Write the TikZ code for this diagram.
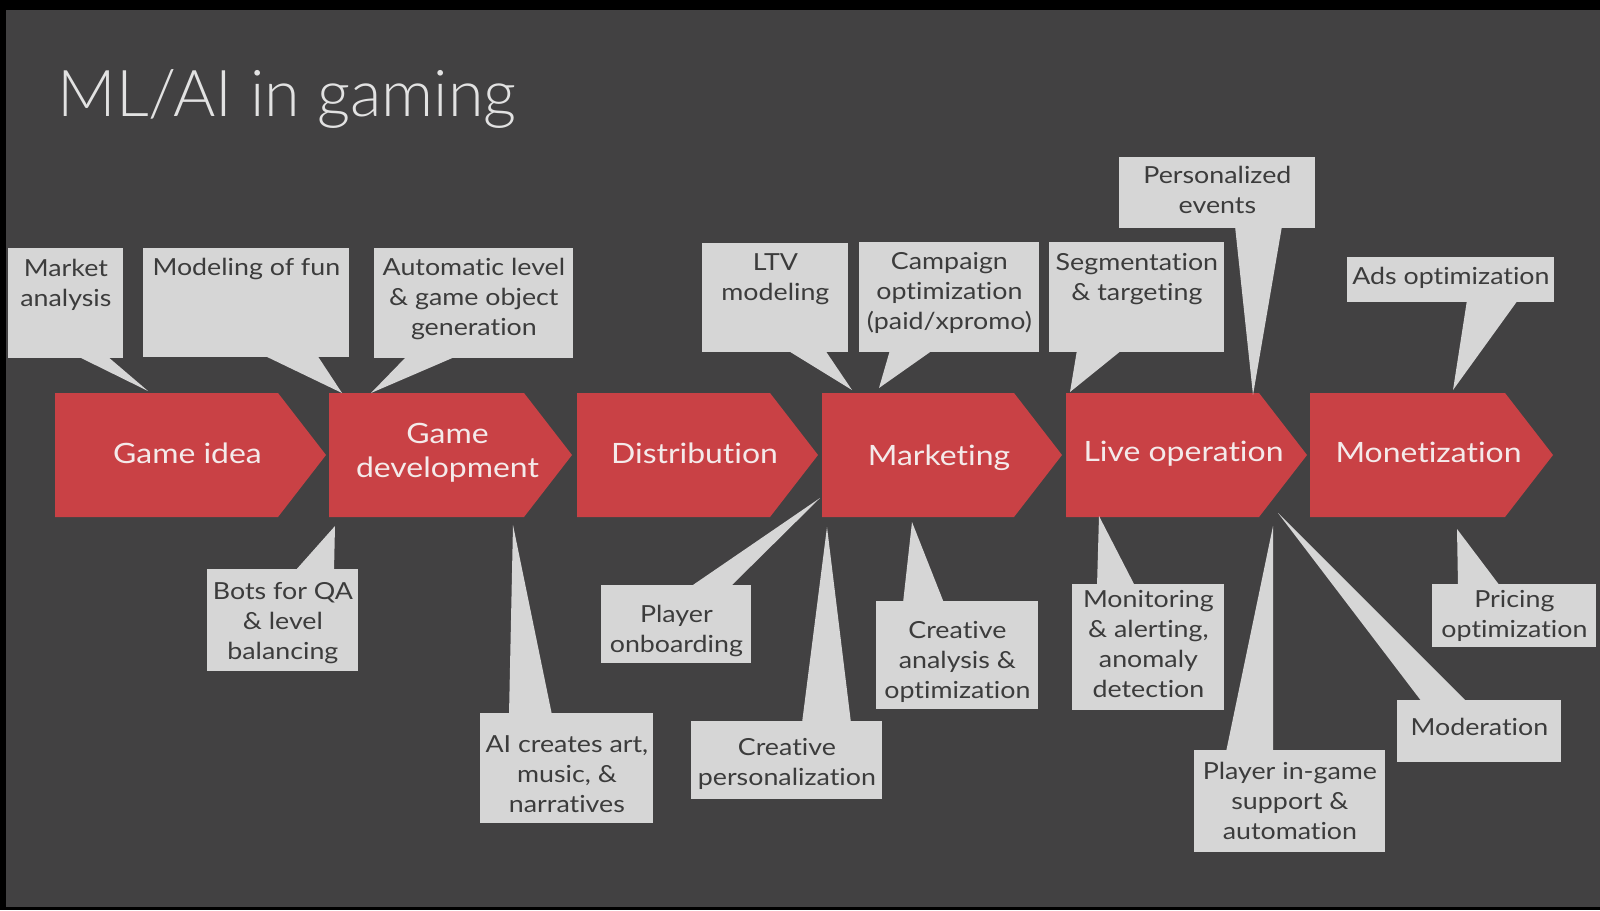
\documentclass[tikz,border=0pt]{standalone}
\usepackage{fontspec}
\setmainfont{Lato}[FakeStretch=1.14, Ligatures={NoCommon}]
\IfFontExistsTF{Lato Light}{\newfontfamily\titlefont{Lato Light}[Ligatures={NoCommon}]}{\newfontfamily\titlefont{Lato}[Ligatures={NoCommon}]}
\usetikzlibrary{calc}
\definecolor{bgc}{HTML}{424142}
\definecolor{redc}{HTML}{C94145}
\definecolor{boxc}{HTML}{D6D6D6}
\definecolor{btext}{HTML}{3C3C3C}
\definecolor{chevtxt}{HTML}{F4EAEA}
\definecolor{titlec}{HTML}{E2E2E2}
\newcommand\mkchev[5]{%
  \fill[chevf] (#2,393) -- ({#3-48},393) -- (#3,455) -- ({#3-48},517) -- (#2,517) -- cycle;
  \node[chtext, anchor=north] (#1) at ({(#2+#3)/2-3},{#4-40}) {\rule{0pt}{20pt}#5};}
\newcommand\mkcall[7]{%
  \node[cbox, anchor=north west, minimum width={(#4-#2)*0.5pt}, minimum height={(#5-#3)*0.5pt}] (#1) at (#2,#3) {};
  \node[cbtext, anchor=north] (#1t) at ($(#1.north)+(0,{#6-22})$) {\rule{0pt}{11pt}#7};}
\newcommand\mktail[7]{%
  \coordinate (#1) at (#2,#3);
  \fill[tailc] (#4,#5) -- (#1) -- (#6,#7) -- cycle;}
\begin{document}
\begin{tikzpicture}[x=0.5pt,y=-0.5pt,
  cbox/.style={fill=boxc, draw=none, inner sep=0pt, rectangle},
  cbtext/.style={text=btext, font=\fontsize{11.75pt}{15pt}\selectfont, align=center, inner sep=0pt},
  tailc/.style={fill=boxc},
  chevf/.style={fill=redc},
  chtext/.style={text=chevtxt, font=\fontsize{14pt}{17pt}\selectfont, align=center, inner sep=0pt}]
\fill[black] (0,0) rectangle (1600,910);
\fill[bgc] (6,10) rectangle (1600,907);
\useasboundingbox (0,0) rectangle (1600,910);
% title
\node[anchor=base west, text=titlec, font=\titlefont\fontsize{32.3pt}{36pt}\selectfont, inner sep=0pt] (title) at (57,116) {ML/AI in gaming};
% chevrons
\mkchev{gi}{55}{326}{463}{Game idea}
\mkchev{gd}{329}{572}{443}{Game\\development}
\mkchev{di}{577}{818}{463}{Distribution}
\mkchev{mk}{822}{1062}{465}{Marketing}
\mkchev{lo}{1066}{1307}{461}{Live operation}
\mkchev{mo}{1310}{1553}{462}{Monetization}
% tails
\mktail{tMarket}{148}{391}{77}{356}{107}{356}
\mktail{tFun}{342}{393}{263}{355}{317}{355}
\mktail{tAuto}{371}{393}{407}{356}{457}{356}
\mktail{tLTV}{852}{390}{787}{350}{825}{350}
\mktail{tCamp}{879}{388}{890}{350}{933}{350}
\mktail{tSeg}{1070}{392}{1077}{350}{1122}{350}
\mktail{tPers}{1253}{395}{1235}{226}{1282}{226}
\mktail{tAds}{1453}{390}{1467}{300}{1518}{300}
\mktail{tBots}{335}{526}{295}{571}{334}{571}
\mktail{tAI}{513}{525}{509}{715}{552}{715}
\mktail{tOnb}{820}{498}{690}{587}{730}{587}
\mktail{tCPers}{827}{527}{802}{723}{851}{723}
\mktail{tCAn}{912}{522}{903}{603}{944}{603}
\mktail{tMon}{1099}{516}{1097}{586}{1135}{586}
\mktail{tSup}{1273}{526}{1226}{752}{1273}{752}
\mktail{tMod}{1278}{513}{1422}{702}{1467}{702}
\mktail{tPri}{1457}{529}{1458}{586}{1500}{586}
% boxes
\mkcall{cMarket}{8}{248}{123}{358}{28}{Market\\analysis}
\mkcall{cFun}{143}{248}{349}{357}{27}{Modeling of fun}
\mkcall{cAuto}{374}{248}{573}{358}{27}{Automatic level\\\& game object\\generation}
\mkcall{cLTV}{702}{243}{848}{352}{27}{LTV\\modeling}
\mkcall{cCamp}{859}{242}{1039}{352}{27}{Campaign\\optimization\\(paid/xpromo)}
\mkcall{cSeg}{1049}{242}{1224}{352}{28}{Segmentation\\\& targeting}
\mkcall{cPers}{1119}{157}{1315}{228}{26}{Personalized\\events}
\mkcall{cAds}{1347}{257}{1554}{302}{27}{Ads optimization}
\mkcall{cBots}{207}{569}{358}{671}{30}{Bots for QA\\\& level\\balancing}
\mkcall{cAI}{480}{713}{653}{823}{39}{AI creates art,\\music, \&\\narratives}
\mkcall{cOnb}{601}{585}{751}{663}{37}{Player\\onboarding}
\mkcall{cCPers}{691}{721}{882}{799}{34}{Creative\\personalization}
\mkcall{cCAn}{876}{601}{1038}{709}{37}{Creative\\analysis \&\\optimization}
\mkcall{cMon}{1072}{584}{1224}{710}{23}{Monitoring\\\& alerting,\\anomaly\\detection}
\mkcall{cSup}{1194}{750}{1385}{852}{29}{Player in-game\\support \&\\automation}
\mkcall{cMod}{1397}{700}{1561}{762}{35}{Moderation}
\mkcall{cPri}{1432}{584}{1596}{647}{23}{Pricing\\optimization}
\end{tikzpicture}
\end{document}
